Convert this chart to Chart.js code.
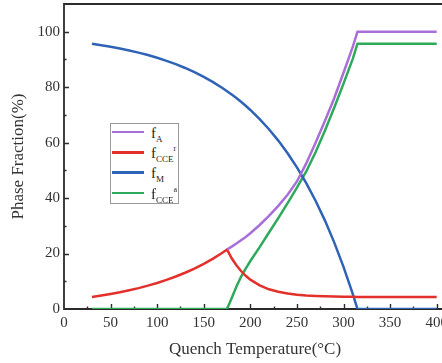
<!DOCTYPE html>
<html>
<head>
<meta charset="utf-8">
<script src="https://cdn.jsdelivr.net/npm/chart.js@4.4.1/dist/chart.umd.min.js"></script>
<style>
  body { margin: 0; background: #fff; }
  #wrap { position: relative; width: 442px; height: 363px; overflow: hidden; }
  #chart { position: absolute; left: 0; top: 0; }
  #legend { position: absolute; left: 110px; top: 123px; width: 69px; height: 81px; box-sizing: border-box;
            border: 1px solid #9a9a9a; background: #fff; font-family: "Liberation Serif", serif; color: #222; }
  .row { position: absolute; left: 0; width: 67px; height: 20px; }
  .row .ln { position: absolute; left: 1px; top: 9px; width: 32px; height: 2.5px; }
  .row .tx { position: absolute; left: 40px; top: 4px; font-size: 15px; line-height: 15px; white-space: nowrap; }
  .row sub { font-size: 9px; vertical-align: -4px; line-height: 0; }
  .row sup { font-size: 8px; vertical-align: 7px; line-height: 0; }
</style>
</head>
<body>
<div id="wrap">
  <canvas id="chart" width="462" height="363"></canvas>
  <div id="legend"></div>
</div>
<script>
// quench temperature (°C)
const temps = [30, 40, 50, 60, 70, 80, 90, 100, 110, 120, 130, 140, 150, 160, 170, 175,
    180, 185, 190, 195, 200, 210, 220, 230, 240, 250, 260, 270, 280, 290, 300, 310, 315,
    320, 330, 340, 350, 360, 370, 380, 390, 400];

// phase fractions (%)
const fA = [null, null, null, null, null, null, null, null, null, null, null, null, null, null, null, 21.44,
    22.5, 23.6, 24.8, 26.0, 27.3, 30.3, 33.6, 37.2, 41.2, 46.0, 52.5, 60.0, 67.8, 76.0, 85.2, 94.6, 100,
    100, 100, 100, 100, 100, 100, 100, 100, 100];
const fCCEr = [4.35, 4.86, 5.42, 6.05, 6.76, 7.54, 8.42, 9.40, 10.49, 11.71, 13.07, 14.59, 16.29, 18.18, 20.30, 21.44,
    18.30, 15.76, 13.70, 11.98, 10.60, 8.50, 7.10, 6.20, 5.60, 5.15, 4.87, 4.68, 4.56, 4.47, 4.41, 4.38, 4.36,
    4.35, 4.35, 4.35, 4.35, 4.35, 4.35, 4.35, 4.35, 4.35];
const fM = [95.65, 95.14, 94.58, 93.95, 93.24, 92.46, 91.58, 90.60, 89.51, 88.29, 86.93, 85.41, 83.71, 81.82, 79.70, 78.56,
    77.35, 76.07, 74.72, 73.29, 71.78, 68.49, 64.83, 60.74, 56.18, 51.08, 45.39, 39.04, 31.96, 24.04, 15.21, 5.35, 0,
    0, 0, 0, 0, 0, 0, 0, 0, 0];
const fCCEa = [0, 0, 0, 0, 0, 0, 0, 0, 0, 0, 0, 0, 0, 0, 0, 0,
    4.0, 8.0, 11.6, 14.6, 17.3, 22.3, 27.6, 32.8, 38.2, 43.8, 49.6, 56.5, 64.3, 72.6, 81.3, 90.3, 95.7,
    95.7, 95.7, 95.7, 95.7, 95.7, 95.7, 95.7, 95.7, 95.7];

const seriesLabels = ['f<sub>A</sub>', 'f<sub>CCE</sub><sup>r</sup>', 'f<sub>M</sub>', 'f<sub>CCE</sub><sup>a</sup>'];
const seriesColors = ['#a86fd8', '#e3302a', '#2f63b6', '#2fa95b'];
const seriesValues = [fA, fCCEr, fM, fCCEa];

const xTicks = [0, 50, 100, 150, 200, 250, 300, 350, 400];
const yTicks = [0, 20, 40, 60, 80, 100];

const toPoints = (values) => temps
    .map((t, i) => ({ x: t, y: values[i] }))
    .filter(p => p.y !== null);

// axis frame with inward ticks, drawn under the curves
const framePlugin = {
    id: 'frame',
    beforeDatasetsDraw(chart) {
        const { ctx, chartArea: a, scales: { x, y } } = chart;
        ctx.save();
        ctx.strokeStyle = '#2b2b2b';
        ctx.lineWidth = 1.8;
        ctx.beginPath();
        ctx.moveTo(a.right + 10, a.top);
        ctx.lineTo(a.left, a.top);
        ctx.lineTo(a.left, a.bottom);
        ctx.lineTo(a.right + 10, a.bottom);
        ctx.stroke();

        ctx.lineWidth = 1.4;
        ctx.beginPath();
        for (let v = 25; v <= 400; v += 25) {
            const px = Math.round(x.getPixelForValue(v)) + 0.5;
            const len = v % 50 === 0 ? 5 : 2.5;
            ctx.moveTo(px, a.bottom);
            ctx.lineTo(px, a.bottom - len);
        }
        for (let v = 10; v <= 100; v += 10) {
            const py = Math.round(y.getPixelForValue(v)) + 0.5;
            const len = v % 20 === 0 ? 5 : 2.5;
            ctx.moveTo(a.left, py);
            ctx.lineTo(a.left + len, py);
        }
        ctx.stroke();
        ctx.restore();
    }
};

document.addEventListener('DOMContentLoaded', () => {
    const tickFont = { family: '"Liberation Serif", serif', size: 15 };
    const titleFont = { family: '"Liberation Serif", serif', size: 17 };

    const datasets = seriesValues.map((values, i) => ({
        label: seriesLabels[i],
        data: toPoints(values),
        borderColor: seriesColors[i],
        backgroundColor: seriesColors[i],
        borderWidth: 2.5,
        pointRadius: 0,
        tension: 0,
        fill: false
    }));

    new Chart(document.getElementById('chart'), {
        type: 'line',
        data: { datasets },
        plugins: [framePlugin],
        options: {
            responsive: false,
            animation: false,
            devicePixelRatio: 1,
            layout: { padding: { top: 4, right: 16, left: 0, bottom: 0 } },
            plugins: { legend: { display: false }, tooltip: { enabled: false } },
            scales: {
                x: {
                    type: 'linear',
                    min: 0,
                    max: 410,
                    afterFit: (s) => { s.height = 54; },
                    afterBuildTicks: (s) => { s.ticks = xTicks.map(v => ({ value: v })); },
                    grid: { display: false, drawTicks: false },
                    border: { display: false },
                    ticks: { font: tickFont, color: '#333', padding: 5, maxRotation: 0, autoSkip: false },
                    title: { display: true, text: 'Quench Temperature(°C)', font: titleFont, color: '#333', padding: { top: 0, bottom: 3 } }
                },
                y: {
                    type: 'linear',
                    min: 0,
                    max: 110,
                    afterFit: (s) => { s.width = 64; s.paddingTop = 0; s.paddingBottom = 0; },
                    afterBuildTicks: (s) => { s.ticks = yTicks.map(v => ({ value: v })); },
                    grid: { display: false, drawTicks: false },
                    border: { display: false },
                    ticks: { font: tickFont, color: '#333', padding: 4, autoSkip: false },
                    title: { display: true, text: 'Phase Fraction(%)', font: titleFont, color: '#333', padding: { top: 8, bottom: 0 } }
                }
            }
        }
    });

    // legend with sub/superscripts
    const legend = document.getElementById('legend');
    datasets.forEach((ds, i) => {
        const row = document.createElement('div');
        row.className = 'row';
        row.style.top = (-2.3 + i * 20.3) + 'px';
        row.innerHTML = `<span class="ln" style="background:${ds.borderColor}"></span><span class="tx">${ds.label}</span>`;
        legend.appendChild(row);
    });
});
</script>
</body>
</html>
